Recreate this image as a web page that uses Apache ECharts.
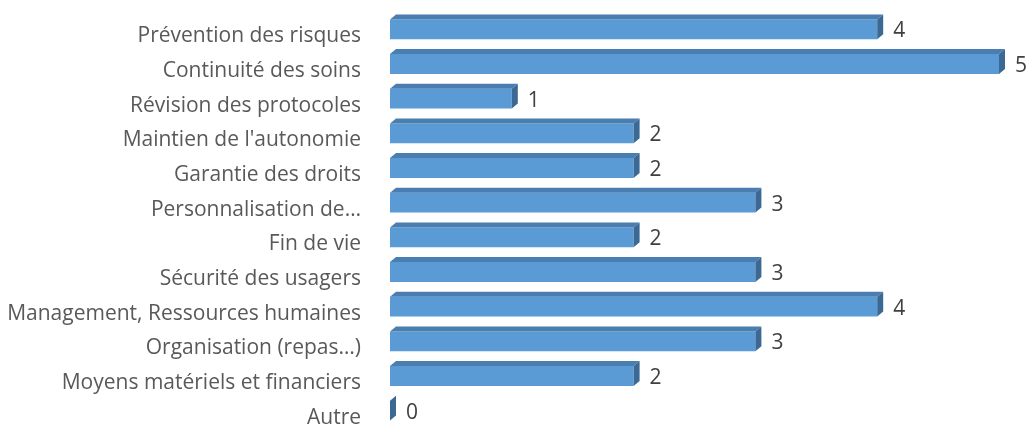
<!DOCTYPE html>
<html>
<head>
<meta charset="utf-8">
<script src="https://cdn.jsdelivr.net/npm/echarts@6/dist/echarts.min.js"></script>
<style>
  html, body { margin: 0; padding: 0; background: #fff; }
  #main { width: 1029px; height: 428px; }
</style>
</head>
<body>
<div id="main"></div>
<script>
var categories = [
  'Prévention des risques',
  'Continuité des soins',
  'Révision des protocoles',
  "Maintien de l'autonomie",
  'Garantie des droits',
  'Personnalisation de…',
  'Fin de vie',
  'Sécurité des usagers',
  'Management, Ressources humaines',
  'Organisation (repas…)',
  'Moyens matériels et financiers',
  'Autre'
];
var values = [4, 5, 1, 2, 2, 3, 2, 3, 4, 3, 2, 0];

var myChart = echarts.init(document.getElementById('main'));

// barre 3D : face avant, dessus et côté droit
function renderBar(params, api) {
  var cat = api.value(0);
  var val = api.value(1);
  var p0 = api.coord([0, cat]);
  var p1 = api.coord([val, cat]);
  var band = api.size([0, 1])[1];
  var h = band * 0.57;
  var dx = 6, dy = 5;
  var yc = p0[1];
  var x0 = p0[0], x1 = p1[0];
  var top = yc - h / 2, bot = yc + h / 2;
  var children = [];
  if (x1 > x0) {
    children.push({
      type: 'rect',
      shape: { x: x0, y: top, width: x1 - x0, height: h },
      style: { fill: '#5b9bd5' }
    });
    children.push({
      type: 'polygon',
      shape: { points: [[x0, top], [x1, top], [x1 + dx, top - dy], [x0 + dx, top - dy]] },
      style: { fill: '#4a7db0' }
    });
  }
  children.push({
    type: 'polygon',
    shape: { points: [[x1, top], [x1 + dx, top - dy], [x1 + dx, bot - dy], [x1, bot]] },
    style: { fill: '#3c6894' }
  });
  children.push({
    type: 'text',
    style: {
      x: x1 + 16, y: yc + 2,
      text: String(val),
      fill: '#404040',
      font: '21px "Open Sans"',
      verticalAlign: 'middle'
    }
  });
  return { type: 'group', children: children };
}

var option = {
  animation: false,
  grid: { left: 390, top: 12, width: 609, height: 422 },
  xAxis: {
    type: 'value',
    min: 0,
    max: 5,
    show: false
  },
  yAxis: {
    type: 'category',
    inverse: true,
    data: categories,
    axisLine: { show: false },
    axisTick: { show: false },
    splitLine: { show: false },
    axisLabel: {
      margin: 29,
      color: '#595959',
      fontFamily: 'Open Sans',
      fontSize: 21,
      verticalAlign: 'top',
      lineHeight: 14
    }
  },
  series: [{
    type: 'custom',
    renderItem: renderBar,
    encode: { x: 1, y: 0 },
    data: values.map(function (v, i) { return [i, v]; })
  }]
};

myChart.setOption(option);
</script>
</body>
</html>
